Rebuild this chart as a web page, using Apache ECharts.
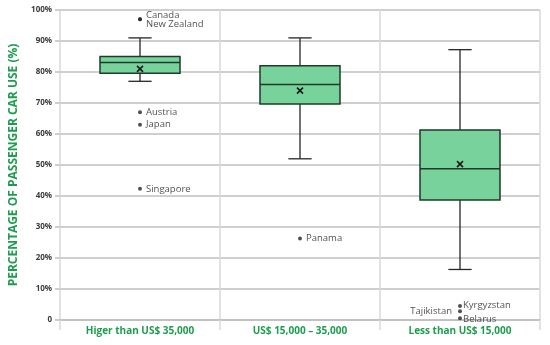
<!DOCTYPE html>
<html>
<head>
<meta charset="utf-8">
<script src="https://cdn.jsdelivr.net/npm/echarts@6/dist/echarts.min.js"></script>
<style>html,body{margin:0;padding:0;background:#fff}#c{width:550px;height:345px}</style>
</head>
<body>
<div id="c"></div>
<script>
// ---- data ----
var categories = ['Higer than US$ 35,000', 'US$ 15,000 – 35,000', 'Less than US$ 15,000'];
var whiskerMin = [77, 52, 16.3];
var q1 = [79.6, 69.7, 38.7];
var median = [83.1, 76.0, 48.8];
var q3 = [85.0, 82.0, 61.3];
var whiskerMax = [91, 91, 87.2];
var means = [81.0, 74.0, 50.3];
var outlierCat = [0, 0, 0, 0, 0, 1, 2, 2, 2];
var outlierVal = [97, 97, 67, 63, 42.3, 26.3, 4.5, 2.8, 0.6];
var outlierName = ['Canada', 'New Zealand', 'Austria', 'Japan', 'Singapore', 'Panama', 'Kyrgyzstan', 'Tajikistan', 'Belarus'];
var yTicks = [0, 10, 20, 30, 40, 50, 60, 70, 80, 90, 100];

// ---- styling helpers (not data) ----
var green = '#1f9d4f';
var labelPlacement = {
  'Canada': {position: 'right', offset: [0, -4]},
  'New Zealand': {position: 'right', offset: [0, 5]},
  'Tajikistan': {position: 'left', offset: [-2, 0]},
  'Kyrgyzstan': {position: 'right', offset: [-3, -1]},
  'Belarus': {position: 'right', offset: [-3, 1]}
};

var boxData = categories.map(function (c, i) {
  return [i, whiskerMin[i], q1[i], median[i], q3[i], whiskerMax[i], means[i]];
});
var outData = outlierVal.map(function (v, i) {
  var lp = labelPlacement[outlierName[i]] || {position: 'right', offset: [0, 0]};
  return {
    value: [outlierCat[i], v],
    name: outlierName[i],
    label: {position: lp.position, offset: lp.offset}
  };
});

var chart = echarts.init(document.getElementById('c'), null, {renderer: 'canvas'});
chart.setOption({
  animation: false,
  grid: {left: 55, right: 10, top: 10, bottom: 25},
  xAxis: {
    type: 'category',
    data: categories,
    boundaryGap: true,
    axisLine: {show: true, lineStyle: {color: '#bfbfbf', width: 1.5}},
    axisTick: {show: true, length: 10, lineStyle: {color: '#d9d9d9', width: 1.5}},
    splitLine: {show: true, lineStyle: {color: '#d9d9d9', width: 1.5}},
    axisLabel: {color: green, fontWeight: 'bold', fontSize: 10, fontFamily: 'Open Sans', margin: 6}
  },
  yAxis: {
    type: 'value',
    min: 0, max: 100, interval: 10,
    name: 'PERCENTAGE OF PASSENGER CAR USE (%)',
    nameLocation: 'middle',
    nameRotate: 90,
    nameGap: 40,
    nameTextStyle: {color: green, fontWeight: 'bold', fontSize: 12, fontFamily: 'Open Sans'},
    axisLine: {show: false},
    axisTick: {show: true, length: 5, lineStyle: {color: '#bfbfbf', width: 1.5}},
    splitLine: {show: true, lineStyle: {color: '#bfbfbf', width: 1.5}},
    axisLabel: {
      color: '#3a3a3a', fontWeight: 'bold', fontSize: 8, fontFamily: 'Open Sans', margin: 8,
      formatter: function (v) { return yTicks.indexOf(v) >= 0 ? (v === 0 ? '0' : v + '%') : ''; }
    }
  },
  series: [
    {
      type: 'custom',
      data: boxData,
      encode: {x: 0, y: [1, 2, 3, 4, 5]},
      z: 3,
      renderItem: function (params, api) {
        var c = api.value(0);
        var pMin = api.coord([c, api.value(1)]);
        var pQ1 = api.coord([c, api.value(2)]);
        var pMed = api.coord([c, api.value(3)]);
        var pQ3 = api.coord([c, api.value(4)]);
        var pMax = api.coord([c, api.value(5)]);
        var pMean = api.coord([c, api.value(6)]);
        var cw = api.size([1, 0])[0];
        var bw = cw * 0.5;
        var capw = bw * 0.29;
        var x = pMed[0];
        var line = {stroke: '#262626', lineWidth: 1.3};
        var m = 3;
        return {
          type: 'group',
          children: [
            {type: 'line', shape: {x1: x, y1: pMax[1], x2: x, y2: pQ3[1]}, style: line},
            {type: 'line', shape: {x1: x, y1: pQ1[1], x2: x, y2: pMin[1]}, style: line},
            {type: 'line', shape: {x1: x - capw / 2, y1: pMax[1], x2: x + capw / 2, y2: pMax[1]}, style: line},
            {type: 'line', shape: {x1: x - capw / 2, y1: pMin[1], x2: x + capw / 2, y2: pMin[1]}, style: line},
            {type: 'rect', shape: {x: x - bw / 2, y: pQ3[1], width: bw, height: pQ1[1] - pQ3[1]},
              style: {fill: '#77d39b', stroke: '#1e3b29', lineWidth: 1.5}},
            {type: 'line', shape: {x1: x - bw / 2, y1: pMed[1], x2: x + bw / 2, y2: pMed[1]},
              style: {stroke: '#1e3b29', lineWidth: 1.5}},
            {type: 'line', shape: {x1: x - m, y1: pMean[1] - m, x2: x + m, y2: pMean[1] + m},
              style: {stroke: '#1a1a1a', lineWidth: 1.6}},
            {type: 'line', shape: {x1: x - m, y1: pMean[1] + m, x2: x + m, y2: pMean[1] - m},
              style: {stroke: '#1a1a1a', lineWidth: 1.6}}
          ]
        };
      }
    },
    {
      type: 'scatter',
      data: outData,
      symbol: 'circle',
      symbolSize: 4,
      z: 4,
      itemStyle: {color: '#262626'},
      label: {
        show: true,
        formatter: '{b}',
        color: '#1f1f1f',
        fontSize: 9.5,
        fontFamily: 'Open Sans',
        distance: 4
      }
    }
  ]
});
</script>
</body>
</html>
